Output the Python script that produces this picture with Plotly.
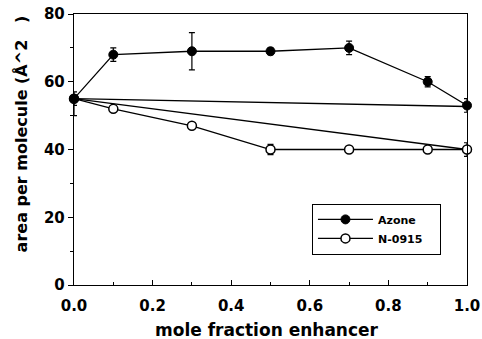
import plotly.graph_objects as go

x_vals = [0.0, 0.1, 0.3, 0.5, 0.7, 0.9, 1.0]
azone_y = [55, 68, 69, 69, 70, 60, 53]
azone_err = [2, 2, 5.5, 1, 2, 1.5, 2]
n0915_y = [55, 52, 47, 40, 40, 40, 40]
n0915_err_plus = [1, 0.5, 0.5, 1.5, 0.5, 0.5, 2]
n0915_err_minus = [5, 0.5, 0.5, 1.5, 0.5, 0.5, 2]
ideal_x = [0.0, 1.0]
ideal_azone = [55, 52.7]
ideal_n0915 = [55, 40]

x_ticks = [0.0, 0.2, 0.4, 0.6, 0.8, 1.0]
x_tick_labels = ["0.0", "0.2", "0.4", "0.6", "0.8", "1.0"]
y_ticks = [0, 20, 40, 60, 80]
x_title = "mole fraction enhancer"
y_title = "area per molecule (Å^2   )"

fig = go.Figure()
fig.add_trace(go.Scatter(x=ideal_x, y=ideal_azone, mode="lines", line=dict(color="black", width=1.3),
                         showlegend=False, hoverinfo="skip"))
fig.add_trace(go.Scatter(x=ideal_x, y=ideal_n0915, mode="lines", line=dict(color="black", width=1.3),
                         showlegend=False, hoverinfo="skip"))
fig.add_trace(go.Scatter(x=x_vals, y=n0915_y, mode="lines+markers", name="N-0915   ",
                         line=dict(color="black", width=1.3),
                         marker=dict(symbol="circle", size=9, color="white", line=dict(color="black", width=1.5)),
                         error_y=dict(type="data", array=n0915_err_plus, arrayminus=n0915_err_minus,
                                      color="black", thickness=1.2, width=3),
                         cliponaxis=False))
fig.add_trace(go.Scatter(x=x_vals, y=azone_y, mode="lines+markers", name="Azone",
                         line=dict(color="black", width=1.3),
                         marker=dict(symbol="circle", size=9, color="black", line=dict(color="black", width=1)),
                         error_y=dict(type="data", array=azone_err, color="black", thickness=1.2, width=3),
                         cliponaxis=False))

font_family = "DejaVu Sans, Arial, sans-serif"
fig.update_layout(
    width=482, height=339,
    margin=dict(l=74, r=15, t=14, b=54),
    paper_bgcolor="white", plot_bgcolor="white",
    font=dict(family=font_family, color="black"),
    showlegend=True,
    legend=dict(x=0.605, y=0.30, xanchor="left", yanchor="top", traceorder="reversed",
                bordercolor="black", borderwidth=1.2, bgcolor="white",
                font=dict(size=11, family=font_family, weight="bold"),
                itemwidth=55),
    xaxis=dict(range=[0, 1.0], tickvals=x_ticks, ticktext=x_tick_labels,
               ticks="inside", ticklen=5, tickcolor="black", tickwidth=1,
               minor=dict(dtick=0.1, ticks="inside", ticklen=3, tickcolor="black"),
               showgrid=False, zeroline=False, showline=True, linecolor="black", linewidth=1.4,
               mirror=True, ticklabelstandoff=7, automargin=False,
               tickfont=dict(size=15, family=font_family, weight="bold")),
    yaxis=dict(range=[0, 80], tickvals=y_ticks,
               ticks="outside", ticklen=5, tickcolor="black", tickwidth=1,
               minor=dict(dtick=10, ticks="outside", ticklen=3, tickcolor="black"),
               showgrid=False, zeroline=False, showline=True, linecolor="black", linewidth=1.4,
               mirror=True, automargin=False,
               tickfont=dict(size=15, family=font_family, weight="bold")),
    annotations=[
        dict(text=x_title, xref="paper", yref="paper", x=0.49, y=-0.167, xanchor="center", yanchor="middle",
             showarrow=False, font=dict(size=17, family=font_family, weight="bold")),
        dict(text=y_title, xref="paper", yref="paper", x=-0.134, y=0.557, xanchor="center", yanchor="middle",
             textangle=-90, showarrow=False, font=dict(size=16, family=font_family, weight="bold")),
    ],
)

fig.write_html("out.html")
